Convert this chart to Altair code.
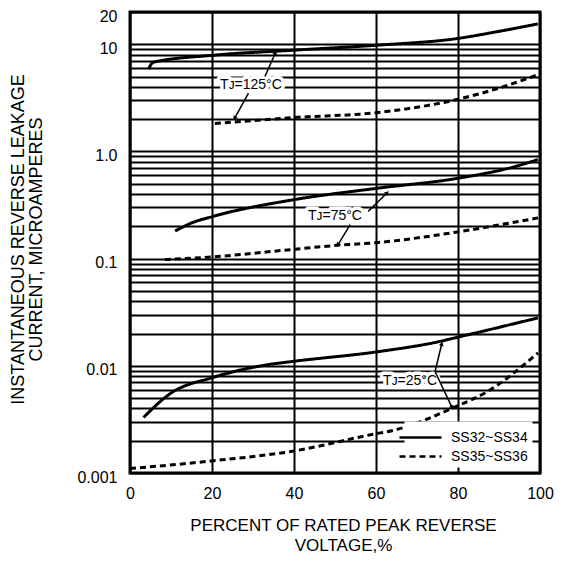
import math
import altair as alt
import pandas as pd

# ---------------- data ----------------
X_125_A = [4.5, 5.7, 20.3, 39.8, 60.2, 79.7, 90.0, 99.5]
Y_125_A = [5.85, 6.8, 7.9, 8.8, 9.8, 11.3, 13.2, 15.5]
X_125_B = [20.7, 39.8, 60.2, 79.7, 90.0, 99.5]
Y_125_B = [1.82, 2.07, 2.3, 3.05, 3.9, 5.2]

X_75_A = [11.0, 15.0, 20.3, 39.8, 60.2, 79.7, 93.5, 99.5]
Y_75_A = [0.181, 0.215, 0.248, 0.354, 0.453, 0.56, 0.716, 0.84]
X_75_B = [8.5, 20.3, 39.8, 50.4, 60.2, 79.7, 99.5]
Y_75_B = [0.098, 0.104, 0.122, 0.133, 0.141, 0.177, 0.24]

X_25_A = [3.3, 9.8, 20.3, 33.3, 39.8, 60.2, 75.6, 79.7, 99.5]
Y_25_A = [0.0033, 0.0055, 0.0078, 0.0102, 0.011, 0.0135, 0.0169, 0.0184, 0.028]
X_25_B = [0.0, 20.3, 39.8, 59.3, 64.2, 79.7, 87.0, 99.5]
Y_25_B = [0.0011, 0.0013, 0.0016, 0.0023, 0.0025, 0.0042, 0.0057, 0.0132]

SERIES = ["SS32~SS34", "SS35~SS36"]

LABEL_TEXT = ["T\u1D0A=125\u00B0C", "T\u1D0A=75\u00B0C", "T\u1D0A=25\u00B0C"]
LABEL_X = [29.5, 50.0, 68.3]
LABEL_Y = [4.2, 0.248, 0.0072]

ARROW_X1 = [32.9, 28.9, 58.1, 53.7, 74.4, 74.4]
ARROW_Y1 = [5.0, 3.5, 0.276, 0.208, 0.00885, 0.00885]
ARROW_X2 = [35.4, 25.6, 62.6, 50.8, 76.0, 78.5]
ARROW_Y2 = [8.2, 2.07, 0.407, 0.136, 0.0158, 0.00412]

X_TICKS = [0, 20, 40, 60, 80, 100]
Y_MAJOR = [0.001, 0.01, 0.1, 1, 10, 20]
Y_MAJOR_TEXT = ["0.001", "0.01", "0.1", "1.0", "10", "20"]

# ---------------- layout ----------------
W, H = 410, 461
YMIN, YMAX = 0.001, 20
FONT = "Liberation Sans"

rows = []
for temp, xs, ys, s in [
    ("125", X_125_A, Y_125_A, SERIES[0]), ("125", X_125_B, Y_125_B, SERIES[1]),
    ("75", X_75_A, Y_75_A, SERIES[0]), ("75", X_75_B, Y_75_B, SERIES[1]),
    ("25", X_25_A, Y_25_A, SERIES[0]), ("25", X_25_B, Y_25_B, SERIES[1]),
]:
    for i, (x, y) in enumerate(zip(xs, ys)):
        rows.append({"x": x, "y": y, "series": s, "grp": temp + s, "order": i})
curves = pd.DataFrame(rows)

labels = pd.DataFrame({"x": LABEL_X, "y": LABEL_Y, "t": LABEL_TEXT})


def to_px(x, y):
    lo, hi = math.log10(YMIN), math.log10(YMAX)
    return x / 100 * W, (hi - math.log10(y)) / (hi - lo) * H


angles = []
for x1, y1, x2, y2 in zip(ARROW_X1, ARROW_Y1, ARROW_X2, ARROW_Y2):
    p1, p2 = to_px(x1, y1), to_px(x2, y2)
    dx, dy = p2[0] - p1[0], p2[1] - p1[1]
    angles.append(math.degrees(math.atan2(dx, -dy)) % 360)
arrows = pd.DataFrame({"x": ARROW_X1, "y": ARROW_Y1, "x2": ARROW_X2,
                       "y2": ARROW_Y2, "ang": angles})

y_grid = sorted({round(m * 10 ** e, 6) for e in range(-3, 1) for m in range(1, 10)} | {10, 20})
label_expr = "".join(
    f"datum.value == {v} ? '{t}' : " for v, t in zip(Y_MAJOR, Y_MAJOR_TEXT)
) + "''"

xscale = alt.Scale(domain=[0, 100], nice=False)
yscale = alt.Scale(type="log", domain=[YMIN, YMAX], nice=False)

x_axis = alt.Axis(values=X_TICKS, grid=True, gridColor="black", gridWidth=2,
                  gridOpacity=1, ticks=False, domain=False, labelFontSize=16,
                  labelPadding=12, labelColor="black", labelFlush=False,
                  title=["PERCENT OF RATED PEAK REVERSE", "VOLTAGE,%"],
                  titleFontSize=17, titleFontWeight="normal", titleColor="black",
                  titleLineHeight=20, titleX=213, titleY=44,
                  titleBaseline="top", titleAlign="center")
y_axis = alt.Axis(values=y_grid, labelExpr=label_expr, grid=True,
                  gridColor="black", gridWidth=2, gridOpacity=1, ticks=False,
                  domain=False, labelFontSize=16, labelPadding=13,
                  labelOffset=4, labelColor="black", labelFlush=False,
                  labelOverlap=False,
                  title=["INSTANTANEOUS REVERSE LEAKAGE", "CURRENT, MICROAMPERES"],
                  titleFontSize=18, titleFontWeight="normal", titleColor="black",
                  titleLineHeight=18, titleAngle=270, titleX=-121, titleY=227,
                  titleBaseline="top", titleAlign="center")

lines = alt.Chart(curves).mark_line(
    color="black", strokeWidth=3, interpolate="monotone"
).encode(
    x=alt.X("x:Q", scale=xscale, axis=x_axis),
    y=alt.Y("y:Q", scale=yscale, axis=y_axis),
    detail="grp:N",
    order="order:Q",
    strokeDash=alt.StrokeDash(
        "series:N",
        scale=alt.Scale(domain=SERIES, range=[[1, 0], [6, 4]]),
        title=None,
        legend=alt.Legend(orient="none", legendX=274.5, legendY=409.5,
                          fillColor="white", padding=4,
                          symbolType="M-2,0H2", symbolSize=441,
                          symbolStrokeWidth=2.5, symbolStrokeColor="black",
                          labelFontSize=14, labelColor="black",
                          labelOffset=18.5, rowPadding=-3),
    ),
)

halo = alt.Chart(labels).mark_text(
    fontSize=14, font=FONT, color="white", stroke="white", strokeWidth=7,
    strokeJoin="round", align="center", baseline="middle"
).encode(x=alt.X("x:Q", scale=xscale), y=alt.Y("y:Q", scale=yscale), text="t:N")

texts = alt.Chart(labels).mark_text(
    fontSize=14, font=FONT, color="black", align="center", baseline="middle"
).encode(x=alt.X("x:Q", scale=xscale), y=alt.Y("y:Q", scale=yscale), text="t:N")

shafts = alt.Chart(arrows).mark_rule(color="black", strokeWidth=1.5).encode(
    x=alt.X("x:Q", scale=xscale), y=alt.Y("y:Q", scale=yscale),
    x2="x2:Q", y2="y2:Q")

heads = alt.Chart(arrows).mark_point(
    shape="triangle", filled=True, color="black", size=24, opacity=1
).encode(x=alt.X("x2:Q", scale=xscale), y=alt.Y("y2:Q", scale=yscale),
         angle=alt.Angle("ang:Q", scale=None))

chart = alt.layer(lines, halo, texts, shafts, heads).properties(
    width=W, height=H,
    autosize=alt.AutoSizeParams(type="none"),
    padding={"left": 122, "top": 4, "right": 17, "bottom": 84},
).configure(font=FONT).configure_view(stroke="black", strokeWidth=3)

chart.save("out.html", embed_options={"renderer": "svg", "actions": False})
